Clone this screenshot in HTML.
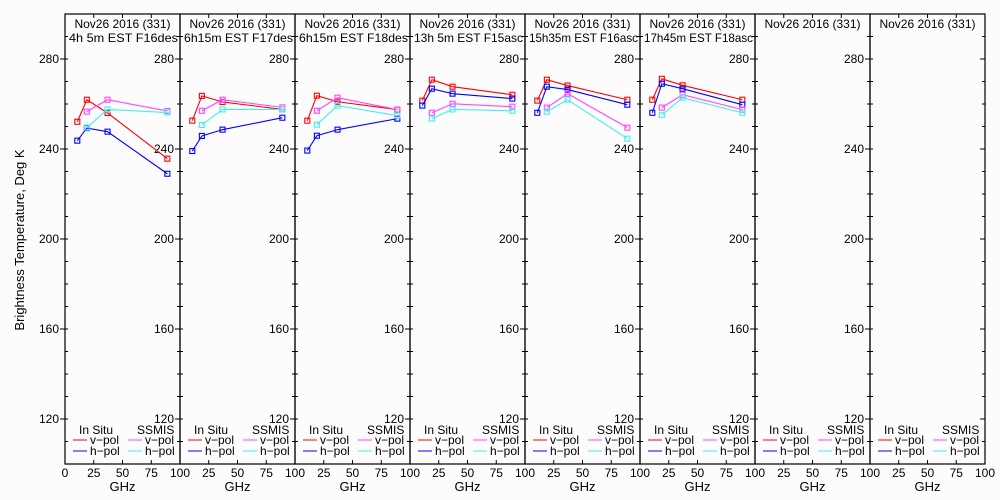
<!DOCTYPE html>
<html><head><meta charset="utf-8"><style>
html,body{margin:0;padding:0;background:#fcfcfc;}
svg{display:block;font-family:"Liberation Sans",sans-serif;}
</style></head><body>
<svg id="chart" width="1000" height="500" viewBox="0 0 1000 500" xmlns="http://www.w3.org/2000/svg">
<rect width="1000" height="500" fill="#fcfcfc"/>
<text x="24" y="240" font-size="13" text-anchor="middle" transform="rotate(-90 24 240)" fill="#000">Brightness Temperature, Deg K</text>
<g id="plots"></g>
</svg>
<script>
const titles1 = ["Nov26 2016 (331)","Nov26 2016 (331)","Nov26 2016 (331)","Nov26 2016 (331)","Nov26 2016 (331)","Nov26 2016 (331)","Nov26 2016 (331)","Nov26 2016 (331)"];
const titles2 = ["4h 5m  EST F16des","6h15m  EST F17des","6h15m  EST F18des","13h 5m  EST F15asc","15h35m  EST F16asc","17h45m  EST F18asc","",""];
const insituFreq = [10.7, 19, 37, 89];
const ssmisFreq = [19, 37, 89];
const insituV = [[252.1,261.9,256,235.7],[252.6,263.6,260.9,257.6],[252.6,263.7,261,257.5],[261.5,270.8,267.7,264.1],[261.5,270.8,268.2,261.9],[261.9,271.2,268.3,261.9],[],[]];
const insituH = [[243.7,249.3,247.7,229],[239.1,245.8,248.6,253.9],[239.3,245.9,248.6,253.5],[259.3,266.8,264.6,262.4],[256.1,267.7,266.4,259.7],[256.1,269,266.8,259.7],[],[]];
const ssmisV = [[256.6,261.9,256.9],[257,261.9,258.5],[257,262.8,257.5],[256.1,260.1,258.8],[258.4,264.6,249.5],[258.4,264.1,257.5],[],[]];
const ssmisH = [[249.5,257.6,256.2],[250.7,257.6,257.6],[250.8,259.3,254.8],[253.5,257.6,257],[256.6,261.9,244.6],[255.2,262.8,256.1],[],[]];
const xTicks = [0,25,50,75,100];
const yLabels = [120,160,200,240,280];

const NS="http://www.w3.org/2000/svg";
const g=document.getElementById('plots');
const X0=65, PW=115, YT=14, YB=464, YMIN=100, YMAX=300;
function yS(v){return YB-(v-YMIN)/(YMAX-YMIN)*(YB-YT);}
function xS(p,f){return X0+p*PW+f/100*PW;}
function mk(tag,attrs,parent){const e=document.createElementNS(NS,tag);for(const k in attrs)e.setAttribute(k,attrs[k]);(parent||g).appendChild(e);return e;}
function txt(x,y,s,size,anchor,parent){const t=mk('text',{x:x,y:y,'font-size':size,'text-anchor':anchor||'start',fill:'#000'},parent);t.textContent=s;return t;}

for(let p=0;p<8;p++){
  const pg=mk('g',{});
  
  
  const L=X0+p*PW, R=L+PW;
  const fr=mk('rect',{x:L,y:YT,width:PW,height:YB-YT,fill:'none',stroke:'#000','stroke-width':1.2},pg);
  
  
  // y ticks
  for(let v=110;v<=290;v+=10){
    const y=yS(v); const major=(v%40===0);
    mk('line',{x1:R-(major?5:3),x2:R,y1:y,y2:y,stroke:'#000'},pg);
    mk('line',{x1:L,x2:L+3,y1:y,y2:y,stroke:'#000'},pg);
    if(p===0&&major) mk('line',{x1:L-5,x2:L,y1:y,y2:y,stroke:'#000'},pg);
  }
  for(const v of yLabels){
    if(p<7){const t=txt(R-6,yS(v)+4,String(v),12,'end',pg);}
    if(p===0){const t=txt(L-6,yS(v)+4,String(v),12,'end',pg);}
  }
  // x ticks
  for(const f of xTicks){
    const x=xS(p,f);
    mk('line',{x1:x,x2:x,y1:YB-4,y2:YB,stroke:'#000'},pg);
    mk('line',{x1:x,x2:x,y1:YT,y2:YT+4,stroke:'#000'},pg);
    if(f===0&&p>0) continue;
    const t=txt(x,YB+13,String(f),12,'middle',pg);
    
    
  }
  const gl=txt(L+PW/2,YB+27,'GHz',13,'middle',pg);
  
  
  const t1=txt(L+PW/2,YT+14,titles1[p],12,'middle',pg);
  
  
  if(titles2[p]){const t2=txt(L+4,YT+28,titles2[p],12,'start',pg);t2.setAttribute('textLength',PW-6);t2.setAttribute('lengthAdjust','spacingAndGlyphs');}
  // series
  const series=[[insituFreq,insituV[p],'#ff0000','insitu-vpol'],[insituFreq,insituH[p],'#0000ff','insitu-hpol'],[ssmisFreq,ssmisV[p],'#ff44ff','ssmis-vpol'],[ssmisFreq,ssmisH[p],'#44eeee','ssmis-hpol']];
  for(const [fq,vals,col,name] of series){
    if(!vals.length) continue;
    const pts=vals.map((v,i)=>xS(p,fq[i])+','+yS(v)).join(' ');
    const pl=mk('polyline',{points:pts,fill:'none',stroke:col,'stroke-width':1.1},pg);
    
    
    vals.forEach((v,i)=>{
      const r=mk('rect',{x:xS(p,fq[i])-2.5,y:yS(v)-2.5,width:5,height:5,fill:'none',stroke:col,'stroke-width':1.1},pg);
      
      
    });
  }
  // legend
  const lg=mk('g',{},pg);
  
  
  txt(L+14,434,'In Situ',12,'start',lg);
  txt(L+72,434,'SSMIS',12,'start',lg);
  const ent=[[L+8,444,'#ff0000','v\u2212pol'],[L+8,455,'#0000ff','h\u2212pol'],[L+63,444,'#ff44ff','v\u2212pol'],[L+63,455,'#44eeee','h\u2212pol']];
  for(const [x,y,c,s] of ent){
    mk('line',{x1:x,x2:x+14,y1:y-4,y2:y-4,stroke:c},lg);
    const e=txt(x+17,y,s,12,'start',lg);
    
    
  }
}
</script>
</body></html>
